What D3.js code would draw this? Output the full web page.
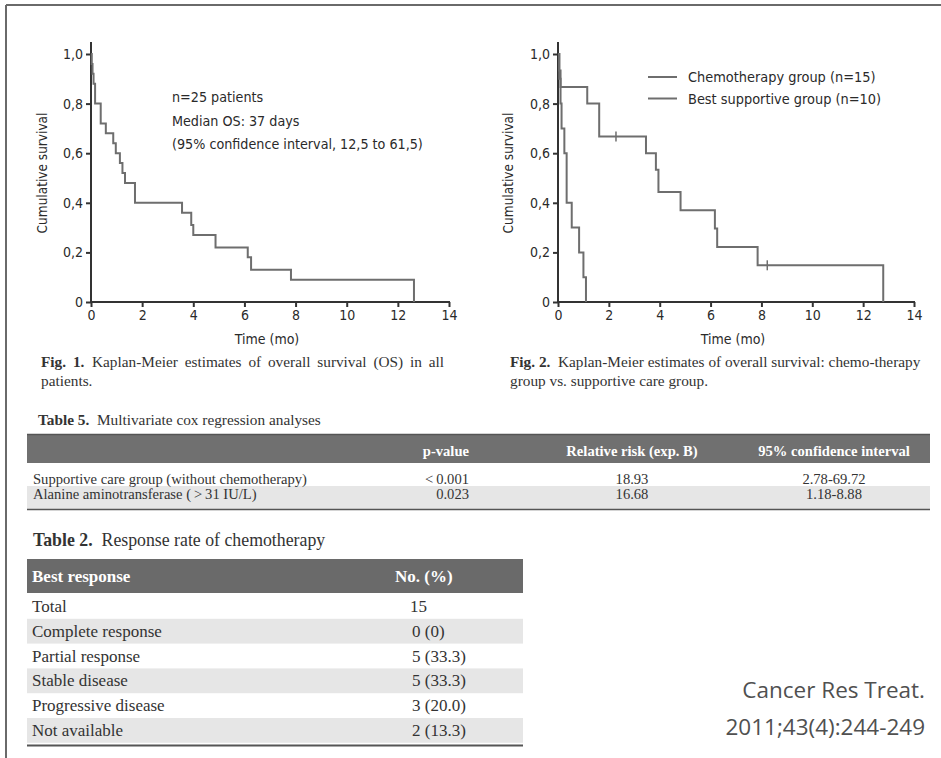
<!DOCTYPE html>
<html>
<head>
<meta charset="utf-8">
<script src="https://cdn.jsdelivr.net/npm/d3@7"></script>
<style>
  html, body { margin: 0; padding: 0; background: #fff; }
  svg { display: block; }
  .ax text { font-family: "DejaVu Sans Condensed", Roboto, sans-serif; font-size: 14px; fill: #2a2a2a; }
  .ax path, .ax line { stroke: #333; stroke-width: 2px; }
  .lbl { font-family: "DejaVu Sans Condensed", Roboto, sans-serif; fill: #2a2a2a; }
  .serif { font-family: "Liberation Serif", "Times New Roman", serif; fill: #333; }
</style>
</head>
<body>
<svg id="fig" width="941" height="758"></svg>
<script>
// Kaplan-Meier, all patients: step times (months) and survival after each step
const allTimes = [0, 0.03, 0.06, 0.10, 0.16, 0.38, 0.58, 0.87, 0.97, 1.13, 1.23, 1.33, 1.72, 3.56, 3.92, 4.00, 4.87, 6.13, 6.26, 7.82, 12.63];
const allSurv  = [1.0, 0.96, 0.92, 0.88, 0.80, 0.72, 0.68, 0.64, 0.60, 0.56, 0.52, 0.48, 0.40, 0.36, 0.31, 0.27, 0.22, 0.18, 0.13, 0.09, 0];

// Chemotherapy group (n=15)
const chemoTimes = [0, 0.05, 0.10, 1.15, 1.62, 3.46, 3.85, 3.95, 4.82, 6.17, 6.26, 7.85, 12.79];
const chemoSurv  = [1.0, 0.933, 0.867, 0.80, 0.667, 0.60, 0.533, 0.444, 0.37, 0.296, 0.222, 0.148, 0];
const chemoCensorTimes = [2.28, 8.23];
const chemoCensorSurv  = [0.667, 0.148];

// Best supportive group (n=10)
const bscTimes = [0, 0.05, 0.10, 0.14, 0.25, 0.34, 0.54, 0.83, 1.00, 1.10];
const bscSurv  = [1.0, 0.9, 0.8, 0.7, 0.6, 0.4, 0.3, 0.2, 0.1, 0];

const xTicks = [0, 2, 4, 6, 8, 10, 12, 14];
const yTicks = [0, 0.2, 0.4, 0.6, 0.8, 1.0];

const legendLabels = ["Chemotherapy group (n=15)", "Best supportive group (n=10)"];
const noteLines = ["n=25 patients", "Median OS: 37 days", "(95% confidence interval, 12,5 to 61,5)"];

// Table 5
const t5Columns = ["", "p-value", "Relative risk (exp. B)", "95% confidence interval"];
const t5Factors = ["Supportive care group (without chemotherapy)", "Alanine aminotransferase (\u2009>\u200931 IU/L)"];
const t5PValues = ["<\u20090.001", "0.023"];
const t5Risks = ["18.93", "16.68"];
const t5CIs = ["2.78-69.72", "1.18-8.88"];

// Table 2
const t2Columns = ["Best response", "No. (%)"];
const t2Responses = ["Total", "Complete response", "Partial response", "Stable disease", "Progressive disease", "Not available"];
const t2Values = ["15", "0 (0)", "5 (33.3)", "5 (33.3)", "3 (20.0)", "2 (13.3)"];

const svg = d3.select("#fig");

// page frame
svg.append("line").attr("x1", 6).attr("x2", 941).attr("y1", 5).attr("y2", 5)
  .attr("stroke", "#6a6a6a").attr("stroke-width", 2);
svg.append("line").attr("x1", 6).attr("x2", 6).attr("y1", 5).attr("y2", 758)
  .attr("stroke", "#6a6a6a").attr("stroke-width", 2);

const y = d3.scaleLinear().domain([0, 1]).range([302, 54]);
const fmtY = d => d === 0 ? "0" : d3.format(".1f")(d).replace(".", ",");

function drawPanel(x, axisTitleX) {
  const g = svg.append("g");
  const ya = g.append("g").attr("class", "ax")
    .attr("transform", `translate(${x(0)},0)`)
    .call(d3.axisLeft(y).tickValues(yTicks).tickFormat(fmtY).tickSize(5).tickSizeOuter(0).tickPadding(3));
  ya.select(".domain").remove();
  g.append("line").attr("x1", x(0)).attr("x2", x(0)).attr("y1", 42).attr("y2", y(0) + 1)
    .attr("stroke", "#333").attr("stroke-width", 2);
  const xa = g.append("g").attr("class", "ax")
    .attr("transform", `translate(0,${y(0)})`)
    .call(d3.axisBottom(x).tickValues(xTicks).tickSize(5).tickSizeOuter(0).tickPadding(3));
  xa.select(".domain").remove();
  g.append("line").attr("x1", x(0) - 1).attr("x2", x(14) + 1).attr("y1", y(0)).attr("y2", y(0))
    .attr("stroke", "#333").attr("stroke-width", 2);
  g.append("text").attr("class", "lbl")
    .attr("x", (x(0) + x(14)) / 2 - 3).attr("y", 344)
    .attr("text-anchor", "middle").attr("font-size", 14).text("Time (mo)");
  g.append("text").attr("class", "lbl")
    .attr("transform", `translate(${axisTitleX},173) rotate(-90)`)
    .attr("text-anchor", "middle").attr("font-size", 13.5).text("Cumulative survival");
  return g;
}

function stepPath(g, x, times, surv) {
  const pts = times.map((t, i) => [x(t), y(surv[i])]);
  g.append("path")
    .attr("d", d3.line().curve(d3.curveStepAfter)(pts))
    .attr("fill", "none").attr("stroke", "#6e6e6e").attr("stroke-width", 2);
}

// Fig. 1
const xL = d3.scaleLinear().domain([0, 14]).range([91, 449]);
const gL = drawPanel(xL, 47);
stepPath(gL, xL, allTimes, allSurv);
gL.selectAll("text.note").data(noteLines).join("text")
  .attr("class", "lbl note")
  .attr("x", 172).attr("y", (d, i) => 102 + i * 23.5)
  .attr("font-size", 14.2).text(d => d);

// Fig. 2
const xR = d3.scaleLinear().domain([0, 14]).range([558, 914]);
const gR = drawPanel(xR, 513);
stepPath(gR, xR, chemoTimes, chemoSurv);
stepPath(gR, xR, bscTimes, bscSurv);
gR.selectAll("line.cens").data(chemoCensorTimes).join("line")
  .attr("class", "cens")
  .attr("x1", d => xR(d)).attr("x2", d => xR(d))
  .attr("y1", (d, i) => y(chemoCensorSurv[i]) - 5).attr("y2", (d, i) => y(chemoCensorSurv[i]) + 5)
  .attr("stroke", "#6e6e6e").attr("stroke-width", 1.5);
const leg = gR.selectAll("g.leg").data(legendLabels).join("g")
  .attr("class", "leg").attr("transform", (d, i) => `translate(648,${77 + i * 21.5})`);
leg.append("line").attr("x1", 0).attr("x2", 29).attr("stroke", "#6e6e6e").attr("stroke-width", 2);
leg.append("text").attr("class", "lbl").attr("x", 40).attr("y", 5)
  .attr("font-size", 14.4).text(d => d);

// figure captions; a justified first line is stretched by word spacing
function caption(xPos, label, lines, firstWidth) {
  lines.forEach((ln, i) => {
    const t = svg.append("text").attr("class", "serif").attr("font-size", 15.3)
      .attr("x", xPos).attr("y", 367 + i * 19);
    if (i === 0) {
      t.append("tspan").attr("font-weight", "bold").text(label);
      t.append("tspan").text("\u2002" + ln);
      if (firstWidth) {
        const w = t.node().getBBox().width;
        const gaps = (label + " " + ln).split(" ").length - 1;
        if (w < firstWidth) t.attr("word-spacing", (firstWidth - w) / gaps);
      }
    } else t.text(ln);
  });
}
caption(41, "Fig. 1.", ["Kaplan-Meier estimates of overall survival (OS) in all", "patients."], 406);
caption(510, "Fig. 2.", ["Kaplan-Meier estimates of overall survival: chemo-therapy", "group vs. supportive care group."], 0);

// Table 5
{
  const g = svg.append("g");
  const t = g.append("text").attr("class", "serif").attr("x", 38).attr("y", 425).attr("font-size", 15.3);
  t.append("tspan").attr("font-weight", "bold").text("Table 5.");
  t.append("tspan").text("\u2002Multivariate cox regression analyses");
  g.append("rect").attr("x", 27).attr("y", 434).attr("width", 903).attr("height", 29).attr("fill", "#707070");
  g.append("line").attr("x1", 27).attr("x2", 930).attr("y1", 434.5).attr("y2", 434.5).attr("stroke", "#555").attr("stroke-width", 1.5);
  const colX = [33, 469, 632, 834];
  const anchors = ["start", "end", "middle", "middle"];
  t5Columns.forEach((c, i) => {
    if (!c) return;
    g.append("text").attr("class", "serif").attr("x", colX[i]).attr("y", 456)
      .attr("text-anchor", anchors[i]).attr("font-size", 14.6).attr("font-weight", "bold")
      .style("fill", "#fff").text(c);
  });
  g.append("rect").attr("x", 27).attr("y", 486).attr("width", 903).attr("height", 23).attr("fill", "#e6e6e6");
  g.append("line").attr("x1", 27).attr("x2", 930).attr("y1", 509.5).attr("y2", 509.5).attr("stroke", "#555").attr("stroke-width", 1.5);
  t5Factors.forEach((f, r) => {
    const yy = 483.5 + r * 15.5;
    const row = [f, t5PValues[r], t5Risks[r], t5CIs[r]];
    row.forEach((v, i) => {
      g.append("text").attr("class", "serif").attr("x", colX[i]).attr("y", yy)
        .attr("text-anchor", anchors[i]).attr("font-size", 14.6).text(v);
    });
  });
}

// Table 2
{
  const g = svg.append("g");
  const t = g.append("text").attr("class", "serif").attr("x", 33).attr("y", 546).attr("font-size", 17.8);
  t.append("tspan").attr("font-weight", "bold").text("Table 2.");
  t.append("tspan").text("\u2002Response rate of chemotherapy");
  g.append("rect").attr("x", 27).attr("y", 559).attr("width", 496).attr("height", 34).attr("fill", "#6a6a6a");
  g.append("text").attr("class", "serif").attr("x", 32).attr("y", 582).attr("font-size", 17)
    .attr("font-weight", "bold").style("fill", "#fff").text(t2Columns[0]);
  g.append("text").attr("class", "serif").attr("x", 395).attr("y", 582).attr("font-size", 17)
    .attr("font-weight", "bold").style("fill", "#fff").text(t2Columns[1]);
  const rowH = 24.8;
  t2Responses.forEach((r, i) => {
    const top = 594 + i * rowH;
    if (i % 2 === 1) g.append("rect").attr("x", 27).attr("y", top).attr("width", 496).attr("height", rowH).attr("fill", "#e6e6e6");
    g.append("text").attr("class", "serif").attr("x", 32).attr("y", top + 18).attr("font-size", 17).text(r);
    g.append("text").attr("class", "serif").attr("x", i === 0 ? 410 : 412).attr("y", top + 18).attr("font-size", 17).text(t2Values[i]);
  });
  g.append("line").attr("x1", 27).attr("x2", 523).attr("y1", 745.5).attr("y2", 745.5).attr("stroke", "#555").attr("stroke-width", 2);
}

// citation
svg.selectAll("text.cite").data(["Cancer Res Treat.", "2011;43(4):244-249"]).join("text")
  .attr("class", "cite")
  .attr("x", 925).attr("y", (d, i) => 698 + i * 37)
  .attr("text-anchor", "end")
  .attr("font-family", "'Open Sans', 'Noto Sans', sans-serif")
  .attr("font-size", 22.5).attr("font-weight", 400).attr("fill", "#505050").text(d => d);
</script>
</body>
</html>
